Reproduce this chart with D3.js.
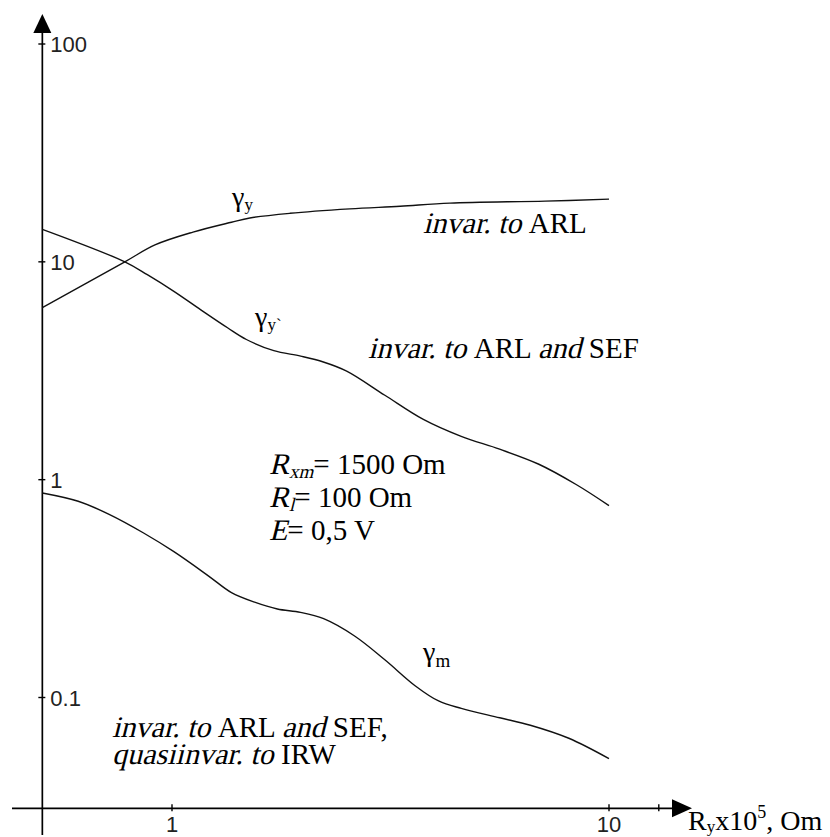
<!DOCTYPE html>
<html>
<head>
<meta charset="utf-8">
<script src="https://cdn.jsdelivr.net/npm/d3@7"></script>
<style>
  body { margin: 0; background: #fff; }
  svg { display: block; }
</style>
</head>
<body>
<div id="drawing_region"></div>
<script>
// gamma_y : rising curve
var xGy  = [0.505, 0.78, 0.914, 1.117, 1.368, 1.507, 1.862, 2.553, 3.327, 4.325, 7.145, 10];
var vGy  = [6.17, 10.0, 11.96, 13.7, 15.2, 15.9, 16.7, 17.5, 18.0, 18.6, 19.0, 19.4];

// gamma_y` : falling curve
var xGy2 = [0.505, 0.78, 0.878, 1.01, 1.164, 1.34, 1.48, 1.71, 1.97, 2.22, 2.51, 3.07, 3.76, 4.59, 5.62, 6.89, 8.41, 10];
var vGy2 = [14.1, 10.0, 8.73, 7.32, 6.02, 4.98, 4.40, 3.91, 3.69, 3.47, 3.15, 2.44, 1.89, 1.58, 1.38, 1.18, 0.95, 0.76];

// gamma_m : lower curve
var xGm  = [0.505, 0.61, 0.718, 0.861, 1.01, 1.213, 1.368, 1.545, 1.742, 1.968, 2.223, 2.612, 3.069, 3.606, 4.074, 4.592, 5.623, 6.607, 8.091, 10];
var vGm  = [0.869, 0.796, 0.693, 0.569, 0.467, 0.361, 0.303, 0.274, 0.255, 0.246, 0.230, 0.192, 0.149, 0.113, 0.0964, 0.0891, 0.0807, 0.0746, 0.065, 0.0524];

// axes
var yTicks = [0.1, 1, 10, 100];
var yTickLabels = ["0.1", "1", "10", "100"];
var xTicks = [1, 10, 13];
var xTickLabels = ["1", "10", ""];
var xOrigin = 0.505;   // where the vertical axis sits
var yOrigin = 0.031;   // where the horizontal axis sits

var width = 830, height = 837;
var svg = d3.select("#drawing_region").append("svg")
    .attr("width", width)
    .attr("height", height);

var xScale = d3.scaleLog().domain([1, 10]).range([172, 609]);
var yScale = d3.scaleLog().domain([0.1, 100]).range([697.5, 44]);

var ax = xScale(xOrigin);
var ay = yScale(yOrigin);

// vertical axis + arrow
svg.append("line")
    .attr("x1", ax).attr("x2", ax)
    .attr("y1", 835).attr("y2", 30)
    .attr("stroke", "#000").attr("stroke-width", 1.7);
svg.append("path")
    .attr("d", "M" + ax + ",14 L" + (ax - 9) + ",33 L" + (ax + 9) + ",33 Z")
    .attr("fill", "#000");

// horizontal axis + arrow
svg.append("line")
    .attr("x1", 12).attr("x2", 676)
    .attr("y1", ay).attr("y2", ay)
    .attr("stroke", "#000").attr("stroke-width", 1.7);
svg.append("path")
    .attr("d", "M692," + ay + " L672," + (ay - 9) + " L672," + (ay + 9) + " Z")
    .attr("fill", "#000");

// y ticks
var yt = svg.append("g");
yTicks.forEach(function (t, i) {
    yt.append("line")
        .attr("x1", ax - 4).attr("x2", ax + 3)
        .attr("y1", yScale(t)).attr("y2", yScale(t))
        .attr("stroke", "#000").attr("stroke-width", 1.4);
    yt.append("text")
        .attr("x", ax + 8).attr("y", yScale(t) + 8)
        .attr("font-family", "Liberation Sans, Arial, sans-serif")
        .attr("font-size", 22)
        .attr("fill", "#222")
        .text(yTickLabels[i]);
});

// x ticks
var xt = svg.append("g");
xTicks.forEach(function (t, i) {
    xt.append("line")
        .attr("x1", xScale(t)).attr("x2", xScale(t))
        .attr("y1", ay - 4).attr("y2", ay + 3)
        .attr("stroke", "#000").attr("stroke-width", 1.4);
    xt.append("text")
        .attr("x", xScale(t)).attr("y", 832)
        .attr("text-anchor", "middle")
        .attr("font-family", "Liberation Sans, Arial, sans-serif")
        .attr("font-size", 22)
        .attr("fill", "#222")
        .text(xTickLabels[i]);
});

// curves
var line = d3.line()
    .x(function (d) { return xScale(d[0]); })
    .y(function (d) { return yScale(d[1]); })
    .curve(d3.curveCatmullRom.alpha(0.5));

[[xGy, vGy], [xGy2, vGy2], [xGm, vGm]].forEach(function (s) {
    svg.append("path")
        .datum(d3.zip(s[0], s[1]))
        .attr("d", line)
        .attr("fill", "none")
        .attr("stroke", "#111")
        .attr("stroke-width", 1.4);
});

// text runs placed one after another; italic = slanted serif
var serif = "Liberation Serif, Times New Roman, serif";
function label(x, y, parts) {
    var cx = x;
    parts.forEach(function (p) {
        var size = p.size || (p.it ? 30 : 29);
        var by = y + (p.dy || 0);
        var t = svg.append("text")
            .attr("font-family", serif)
            .attr("font-size", size)
            .attr("fill", "#000")
            .style("white-space", "pre")
            .attr("transform", "translate(" + cx + "," + by + ")" + (p.it ? " skewX(-14)" : ""))
            .text(p.t);
        cx += t.node().getComputedTextLength();
    });
}

label(232, 206, [{t: "γ", size: 28}, {t: "y", size: 17, dy: 4}]);
label(255, 326, [{t: "γ", size: 28}, {t: "y`", size: 17, dy: 4}]);
label(423, 661, [{t: "γ", size: 28}, {t: "m", size: 19, dy: 6}]);

label(423, 233, [{t: "invar. to ", it: true}, {t: "ARL"}]);
label(368, 358, [{t: "invar. to ", it: true}, {t: "ARL "}, {t: "and ", it: true}, {t: "SEF"}]);

label(269, 474, [{t: "R", it: true}, {t: "xm", it: true, size: 19, dy: 4}, {t: "= 1500 Om"}]);
label(269, 507, [{t: "R", it: true}, {t: "l", it: true, size: 19, dy: 4}, {t: "= 100 Om"}]);
label(269, 540, [{t: "E", it: true}, {t: "= 0,5 V"}]);

label(112, 737, [{t: "invar. to ", it: true}, {t: "ARL "}, {t: "and ", it: true}, {t: "SEF,"}]);
label(112, 764, [{t: "quasiinvar. to ", it: true}, {t: "IRW"}]);

label(688, 830, [{t: "R", size: 28}, {t: "y", size: 17, dy: 2}, {t: "x10", size: 28}, {t: "5", size: 18, dy: -12}, {t: ", Om", size: 28}]);
</script>
</body>
</html>
